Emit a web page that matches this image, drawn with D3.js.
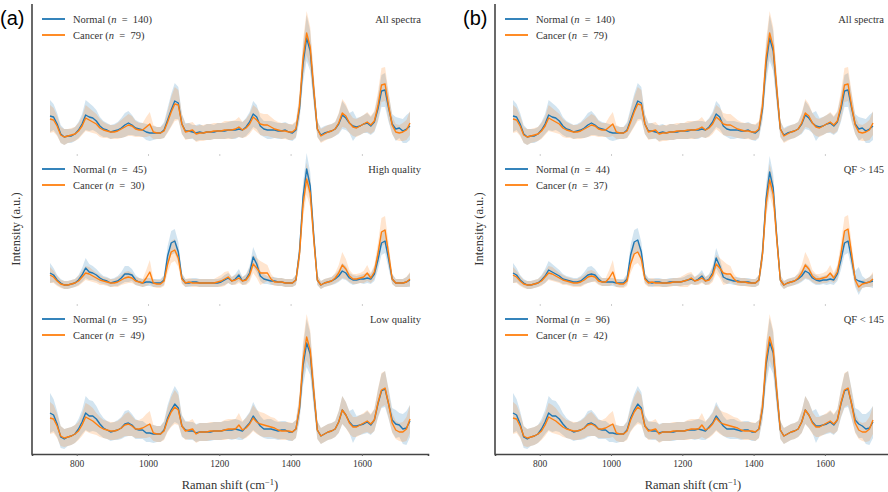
<!DOCTYPE html>
<html>
<head>
<meta charset="utf-8">
<script src="https://cdn.jsdelivr.net/npm/d3@7"></script>
<style>
  body { margin: 0; background: #fff; }
  svg { display: block; }
  text { font-family: "Liberation Serif", "DejaVu Serif", serif; fill: #333; }
  text.panel-label { font-family: "Liberation Sans", Arial, sans-serif; fill: #000; }
</style>
</head>
<body>
<script>
// Raman shift grid (cm^-1), one sample every 10 cm^-1
const WAVENUMBER = d3.range(725, 1736, 10)
const X_TICKS = [800, 1000, 1200, 1400, 1600]

// ---- All spectra (same data in (a) and (b)) ----
const normalAll = [
  0.18,0.17,0.10,0.00,-0.03,-0.02,-0.02,0.00,0.04,0.10,
  0.19,0.17,0.16,0.13,0.08,0.05,0.04,0.02,0.03,0.04,
  0.06,0.09,0.11,0.09,0.06,0.05,0.04,0.02,0.01,0.01,
  0.01,0.01,0.04,0.14,0.24,0.33,0.31,0.10,0.03,0.03,
  0.02,0.01,0.02,0.01,0.02,0.02,0.02,0.03,0.03,0.03,
  0.04,0.04,0.04,0.05,0.04,0.07,0.12,0.20,0.17,0.08,
  0.05,0.04,0.04,0.04,0.03,0.03,0.04,0.02,0.01,0.04,
  0.25,0.70,0.96,0.83,0.43,0.05,-0.01,0.01,0.02,0.03,
  0.05,0.10,0.19,0.16,0.11,0.08,0.07,0.08,0.10,0.11,
  0.08,0.12,0.25,0.43,0.44,0.26,0.10,0.05,0.06,0.03,
  0.05,0.08]
const cancerAll = [
  0.15,0.14,0.08,-0.01,-0.03,-0.02,-0.01,0.00,0.03,0.08,
  0.16,0.14,0.12,0.10,0.06,0.04,0.03,0.02,0.02,0.03,
  0.05,0.07,0.09,0.08,0.05,0.04,0.04,0.07,0.10,0.02,
  0.01,0.01,0.03,0.12,0.22,0.30,0.29,0.10,0.02,0.03,
  0.04,0.00,0.01,0.01,0.02,0.02,0.03,0.03,0.03,0.04,
  0.04,0.04,0.05,0.07,0.04,0.06,0.10,0.17,0.14,0.10,
  0.09,0.09,0.07,0.05,0.04,0.03,0.03,0.02,0.02,0.05,
  0.28,0.76,1.01,0.87,0.45,0.05,-0.02,0.00,0.02,0.03,
  0.05,0.11,0.21,0.18,0.11,0.07,0.06,0.08,0.10,0.12,
  0.09,0.13,0.28,0.49,0.50,0.28,0.09,0.02,0.01,0.02,
  0.04,0.11]
const normalAllSd = [
  0.16,0.13,0.11,0.09,0.08,0.07,0.07,0.07,0.08,0.10,
  0.15,0.14,0.12,0.11,0.09,0.08,0.07,0.07,0.07,0.08,
  0.10,0.12,0.12,0.10,0.08,0.07,0.07,0.08,0.08,0.07,
  0.06,0.06,0.08,0.12,0.16,0.18,0.16,0.10,0.08,0.08,
  0.07,0.08,0.08,0.07,0.08,0.08,0.07,0.08,0.08,0.08,
  0.08,0.09,0.09,0.08,0.08,0.09,0.10,0.13,0.12,0.09,
  0.08,0.09,0.09,0.08,0.08,0.08,0.08,0.08,0.08,0.08,
  0.12,0.18,0.23,0.20,0.14,0.08,0.07,0.07,0.07,0.07,
  0.07,0.10,0.14,0.12,0.10,0.15,0.09,0.09,0.09,0.10,
  0.09,0.10,0.13,0.16,0.17,0.14,0.10,0.12,0.10,0.12,
  0.14,0.14]
const cancerAllSd = [
  0.14,0.12,0.10,0.08,0.08,0.07,0.07,0.07,0.08,0.09,
  0.13,0.12,0.11,0.10,0.09,0.08,0.07,0.07,0.07,0.08,
  0.09,0.10,0.11,0.10,0.08,0.07,0.07,0.10,0.12,0.07,
  0.06,0.06,0.07,0.11,0.15,0.17,0.15,0.10,0.08,0.08,
  0.08,0.08,0.08,0.08,0.08,0.08,0.08,0.08,0.08,0.09,
  0.09,0.09,0.09,0.10,0.08,0.09,0.10,0.12,0.12,0.11,
  0.11,0.11,0.10,0.09,0.08,0.08,0.08,0.08,0.08,0.08,
  0.12,0.18,0.22,0.20,0.14,0.08,0.07,0.07,0.07,0.07,
  0.07,0.10,0.14,0.12,0.10,0.09,0.09,0.09,0.09,0.10,
  0.09,0.10,0.14,0.17,0.17,0.14,0.09,0.08,0.08,0.09,
  0.10,0.12]

// ---- High quality (a) ----
const normalHigh = [
  0.11,0.09,0.04,0.01,-0.01,-0.01,0.00,0.01,0.04,0.09,
  0.16,0.12,0.11,0.09,0.06,0.04,0.03,0.01,0.02,0.03,
  0.06,0.10,0.10,0.09,0.04,0.02,0.01,0.02,0.02,0.01,
  0.01,0.01,0.04,0.28,0.41,0.43,0.32,0.06,0.01,0.01,
  0.02,0.02,0.01,0.01,0.01,0.01,0.01,0.01,0.02,0.04,
  0.06,0.03,0.05,0.09,0.03,0.05,0.11,0.27,0.20,0.08,
  0.05,0.04,0.03,0.03,0.02,0.02,0.01,0.01,0.01,0.04,
  0.32,0.87,1.15,0.98,0.48,0.04,-0.01,0.01,0.02,0.03,
  0.05,0.08,0.13,0.11,0.06,0.04,0.04,0.05,0.05,0.06,
  0.05,0.10,0.24,0.41,0.43,0.25,0.05,0.01,0.01,0.01,
  0.02,0.04]
const cancerHigh = [
  0.09,0.07,0.03,0.00,-0.01,-0.01,0.00,0.01,0.03,0.07,
  0.11,0.10,0.08,0.06,0.04,0.03,0.02,0.01,0.01,0.02,
  0.04,0.06,0.07,0.06,0.03,0.02,0.01,0.06,0.12,0.01,
  0.00,0.00,0.03,0.20,0.32,0.34,0.26,0.05,0.01,0.02,
  0.01,0.01,0.01,0.01,0.01,0.01,0.01,0.02,0.03,0.05,
  0.07,0.03,0.04,0.06,0.03,0.04,0.09,0.20,0.16,0.11,
  0.11,0.11,0.05,0.02,0.02,0.02,0.01,0.01,0.01,0.04,
  0.30,0.80,1.05,0.91,0.45,0.04,-0.01,0.01,0.02,0.03,
  0.06,0.11,0.19,0.15,0.08,0.05,0.05,0.06,0.07,0.11,
  0.06,0.12,0.30,0.52,0.54,0.30,0.05,0.01,0.01,0.01,
  0.02,0.05]
const normalHighSd = [
  0.10,0.07,0.05,0.04,0.04,0.04,0.04,0.04,0.05,0.07,
  0.10,0.08,0.07,0.06,0.05,0.04,0.04,0.04,0.04,0.05,
  0.06,0.08,0.08,0.06,0.05,0.04,0.04,0.04,0.04,0.04,
  0.04,0.04,0.05,0.10,0.12,0.12,0.10,0.05,0.04,0.04,
  0.04,0.04,0.04,0.04,0.04,0.04,0.04,0.04,0.04,0.05,
  0.05,0.04,0.05,0.06,0.04,0.05,0.07,0.10,0.08,0.05,
  0.05,0.04,0.04,0.04,0.04,0.04,0.04,0.04,0.04,0.05,
  0.10,0.14,0.16,0.14,0.10,0.05,0.04,0.04,0.04,0.04,
  0.05,0.06,0.08,0.07,0.05,0.05,0.04,0.04,0.05,0.05,
  0.05,0.07,0.10,0.12,0.12,0.10,0.05,0.04,0.04,0.04,
  0.05,0.07]
const cancerHighSd = [
  0.08,0.06,0.05,0.04,0.04,0.04,0.04,0.04,0.05,0.06,
  0.07,0.07,0.06,0.05,0.05,0.04,0.04,0.04,0.04,0.05,
  0.05,0.06,0.06,0.05,0.04,0.04,0.04,0.08,0.12,0.04,
  0.04,0.04,0.05,0.09,0.11,0.11,0.09,0.05,0.04,0.04,
  0.04,0.04,0.04,0.04,0.04,0.04,0.04,0.05,0.06,0.07,
  0.06,0.04,0.05,0.05,0.04,0.05,0.07,0.09,0.10,0.12,
  0.10,0.08,0.05,0.04,0.04,0.04,0.04,0.04,0.04,0.05,
  0.10,0.14,0.16,0.14,0.10,0.05,0.04,0.04,0.04,0.04,
  0.05,0.08,0.13,0.10,0.06,0.05,0.05,0.05,0.06,0.08,
  0.05,0.07,0.11,0.14,0.14,0.11,0.05,0.04,0.04,0.04,
  0.05,0.07]

// ---- Low quality (a) ----
const normalLow = [
  0.21,0.19,0.10,-0.03,-0.05,-0.03,-0.02,0.00,0.05,0.12,
  0.21,0.18,0.18,0.15,0.10,0.06,0.04,0.02,0.03,0.04,
  0.06,0.10,0.11,0.09,0.05,0.04,0.04,0.01,0.01,0.00,
  0.00,0.00,0.04,0.16,0.24,0.30,0.26,0.08,0.04,0.03,
  0.03,0.01,0.02,0.02,0.02,0.02,0.03,0.03,0.03,0.04,
  0.04,0.04,0.05,0.04,0.03,0.07,0.11,0.18,0.13,0.08,
  0.05,0.05,0.05,0.04,0.03,0.04,0.04,0.02,0.02,0.05,
  0.25,0.68,0.91,0.80,0.41,0.04,-0.02,0.00,0.02,0.03,
  0.05,0.12,0.24,0.19,0.12,0.08,0.08,0.09,0.10,0.12,
  0.09,0.14,0.30,0.43,0.45,0.30,0.14,0.10,0.09,0.05,
  0.06,0.13]
const cancerLow = [
  0.16,0.15,0.08,-0.02,-0.04,-0.03,-0.02,0.00,0.03,0.09,
  0.17,0.15,0.13,0.10,0.07,0.05,0.04,0.03,0.03,0.04,
  0.06,0.09,0.10,0.08,0.05,0.05,0.06,0.08,0.10,0.01,
  0.00,0.00,0.03,0.14,0.22,0.27,0.24,0.08,0.03,0.04,
  0.05,0.00,0.02,0.02,0.02,0.03,0.03,0.03,0.03,0.04,
  0.05,0.05,0.05,0.09,0.04,0.06,0.10,0.16,0.12,0.10,
  0.09,0.08,0.07,0.06,0.04,0.03,0.03,0.03,0.02,0.05,
  0.27,0.74,0.97,0.84,0.43,0.04,-0.02,0.00,0.02,0.03,
  0.05,0.12,0.24,0.19,0.11,0.07,0.07,0.09,0.11,0.13,
  0.10,0.14,0.31,0.44,0.46,0.30,0.11,0.04,0.02,0.02,
  0.05,0.15]
const normalLowSd = [
  0.20,0.16,0.13,0.11,0.10,0.09,0.09,0.09,0.10,0.12,
  0.17,0.16,0.15,0.13,0.11,0.10,0.09,0.09,0.09,0.10,
  0.11,0.13,0.13,0.11,0.10,0.09,0.09,0.09,0.09,0.09,
  0.08,0.08,0.09,0.13,0.16,0.18,0.16,0.11,0.09,0.09,
  0.09,0.09,0.09,0.09,0.09,0.09,0.09,0.09,0.09,0.09,
  0.09,0.10,0.10,0.10,0.09,0.10,0.11,0.14,0.12,0.10,
  0.09,0.10,0.10,0.09,0.09,0.09,0.09,0.09,0.09,0.09,
  0.12,0.19,0.24,0.21,0.15,0.09,0.08,0.08,0.08,0.08,
  0.08,0.11,0.14,0.13,0.11,0.17,0.10,0.10,0.10,0.11,
  0.10,0.11,0.14,0.17,0.18,0.15,0.12,0.14,0.12,0.15,
  0.17,0.16]
const cancerLowSd = [
  0.16,0.14,0.12,0.10,0.09,0.09,0.09,0.09,0.09,0.11,
  0.14,0.14,0.13,0.11,0.10,0.09,0.09,0.09,0.09,0.09,
  0.10,0.11,0.12,0.10,0.09,0.09,0.10,0.12,0.13,0.08,
  0.08,0.08,0.09,0.12,0.15,0.17,0.15,0.10,0.09,0.09,
  0.10,0.09,0.09,0.09,0.09,0.09,0.09,0.09,0.09,0.10,
  0.10,0.10,0.10,0.12,0.09,0.10,0.11,0.13,0.12,0.12,
  0.12,0.11,0.10,0.10,0.09,0.09,0.09,0.09,0.09,0.09,
  0.12,0.18,0.23,0.20,0.14,0.09,0.08,0.08,0.08,0.08,
  0.08,0.11,0.14,0.13,0.11,0.10,0.10,0.10,0.10,0.11,
  0.10,0.11,0.14,0.17,0.17,0.14,0.10,0.09,0.09,0.10,
  0.12,0.14]

// ---- QF > 145 (b) ----
const normalQfHigh = [
  0.11,0.09,0.04,0.01,-0.01,-0.01,0.00,0.01,0.04,0.08,
  0.14,0.12,0.10,0.08,0.05,0.04,0.03,0.02,0.02,0.03,
  0.06,0.09,0.10,0.09,0.05,0.02,0.02,0.02,0.02,0.01,
  0.01,0.01,0.05,0.29,0.42,0.44,0.32,0.06,0.02,0.01,
  0.02,0.02,0.01,0.01,0.02,0.02,0.02,0.02,0.03,0.04,
  0.05,0.03,0.05,0.08,0.03,0.05,0.11,0.26,0.18,0.07,
  0.05,0.04,0.03,0.03,0.02,0.02,0.02,0.01,0.01,0.04,
  0.31,0.85,1.12,0.96,0.47,0.04,-0.01,0.01,0.02,0.03,
  0.05,0.08,0.13,0.11,0.06,0.04,0.03,0.04,0.04,0.05,
  0.04,0.10,0.24,0.41,0.43,0.25,0.05,0.03,0.02,0.01,
  0.02,0.03]
const cancerQfHigh = [
  0.09,0.07,0.03,0.00,-0.01,-0.01,0.00,0.01,0.03,0.07,
  0.11,0.10,0.08,0.06,0.04,0.03,0.02,0.01,0.01,0.02,
  0.04,0.07,0.08,0.07,0.03,0.02,0.02,0.06,0.12,0.01,
  0.00,0.00,0.03,0.20,0.30,0.32,0.25,0.05,0.01,0.02,
  0.01,0.01,0.01,0.01,0.01,0.02,0.02,0.02,0.03,0.04,
  0.06,0.03,0.04,0.06,0.03,0.04,0.09,0.20,0.16,0.11,
  0.10,0.10,0.05,0.02,0.02,0.02,0.01,0.01,0.01,0.04,
  0.30,0.80,1.04,0.90,0.45,0.04,-0.01,0.01,0.02,0.03,
  0.06,0.11,0.19,0.15,0.08,0.05,0.05,0.06,0.07,0.11,
  0.06,0.12,0.30,0.53,0.55,0.30,0.04,-0.03,0.00,0.01,
  0.02,0.05]
const normalQfHighSd = [
  0.10,0.07,0.05,0.04,0.04,0.04,0.04,0.04,0.05,0.07,
  0.09,0.08,0.07,0.06,0.05,0.04,0.04,0.04,0.04,0.05,
  0.06,0.08,0.08,0.06,0.05,0.04,0.04,0.04,0.04,0.04,
  0.04,0.04,0.05,0.10,0.12,0.12,0.10,0.05,0.04,0.04,
  0.04,0.04,0.04,0.04,0.04,0.04,0.04,0.04,0.04,0.05,
  0.05,0.04,0.05,0.06,0.04,0.05,0.07,0.10,0.08,0.05,
  0.05,0.04,0.04,0.04,0.04,0.04,0.04,0.04,0.04,0.05,
  0.10,0.14,0.16,0.14,0.10,0.05,0.04,0.04,0.04,0.04,
  0.05,0.06,0.08,0.07,0.05,0.05,0.04,0.04,0.05,0.05,
  0.05,0.07,0.10,0.12,0.12,0.10,0.08,0.14,0.06,0.04,
  0.05,0.07]
const cancerQfHighSd = [
  0.08,0.06,0.05,0.04,0.04,0.04,0.04,0.04,0.05,0.06,
  0.07,0.07,0.06,0.05,0.05,0.04,0.04,0.04,0.04,0.05,
  0.05,0.06,0.06,0.05,0.04,0.04,0.04,0.08,0.12,0.04,
  0.04,0.04,0.05,0.09,0.11,0.11,0.09,0.05,0.04,0.04,
  0.04,0.04,0.04,0.04,0.04,0.04,0.04,0.05,0.06,0.07,
  0.06,0.04,0.05,0.05,0.04,0.05,0.07,0.09,0.10,0.12,
  0.10,0.08,0.05,0.04,0.04,0.04,0.04,0.04,0.04,0.05,
  0.10,0.14,0.16,0.14,0.10,0.05,0.04,0.04,0.04,0.04,
  0.05,0.08,0.13,0.10,0.06,0.05,0.05,0.05,0.06,0.08,
  0.05,0.07,0.11,0.14,0.14,0.11,0.05,0.05,0.04,0.04,
  0.05,0.07]

// ---- QF < 145 (b) ----
const normalQfLow = [
  0.21,0.19,0.10,-0.03,-0.05,-0.03,-0.02,0.00,0.05,0.12,
  0.21,0.18,0.18,0.15,0.10,0.06,0.04,0.02,0.03,0.04,
  0.06,0.10,0.11,0.09,0.05,0.04,0.04,0.01,0.01,0.00,
  0.00,0.00,0.04,0.16,0.24,0.30,0.26,0.08,0.04,0.03,
  0.03,0.01,0.02,0.02,0.02,0.02,0.03,0.03,0.03,0.04,
  0.04,0.04,0.05,0.04,0.03,0.07,0.11,0.18,0.13,0.08,
  0.05,0.05,0.05,0.04,0.03,0.04,0.04,0.02,0.02,0.05,
  0.25,0.69,0.92,0.81,0.41,0.04,-0.02,0.00,0.02,0.03,
  0.05,0.12,0.24,0.19,0.12,0.08,0.08,0.09,0.10,0.12,
  0.09,0.14,0.30,0.43,0.45,0.30,0.14,0.10,0.08,0.05,
  0.06,0.12]
const cancerQfLow = [
  0.16,0.15,0.08,-0.02,-0.04,-0.03,-0.02,0.00,0.03,0.09,
  0.17,0.15,0.13,0.10,0.07,0.05,0.04,0.03,0.03,0.04,
  0.06,0.09,0.10,0.08,0.05,0.05,0.06,0.08,0.10,0.01,
  0.00,0.00,0.03,0.14,0.22,0.27,0.24,0.08,0.03,0.04,
  0.05,0.00,0.02,0.02,0.02,0.03,0.03,0.03,0.03,0.04,
  0.05,0.05,0.05,0.09,0.04,0.06,0.10,0.16,0.12,0.10,
  0.09,0.08,0.07,0.06,0.04,0.03,0.03,0.03,0.02,0.05,
  0.27,0.74,0.97,0.84,0.43,0.04,-0.02,0.00,0.02,0.03,
  0.05,0.12,0.24,0.19,0.11,0.07,0.07,0.09,0.11,0.13,
  0.10,0.14,0.31,0.44,0.46,0.30,0.11,0.04,0.02,0.02,
  0.05,0.14]
const normalQfLowSd = normalLowSd
const cancerQfLowSd = cancerLowSd

const panels = [
  { label: "(a)", left: 32, rows: [
    { title: "All spectra", nNormal: 140, nCancer: 79, normal: normalAll, normalSd: normalAllSd, cancer: cancerAll, cancerSd: cancerAllSd },
    { title: "High quality", nNormal: 45, nCancer: 30, normal: normalHigh, normalSd: normalHighSd, cancer: cancerHigh, cancerSd: cancerHighSd },
    { title: "Low quality", nNormal: 95, nCancer: 49, normal: normalLow, normalSd: normalLowSd, cancer: cancerLow, cancerSd: cancerLowSd }
  ]},
  { label: "(b)", left: 495, rows: [
    { title: "All spectra", nNormal: 140, nCancer: 79, normal: normalAll, normalSd: normalAllSd, cancer: cancerAll, cancerSd: cancerAllSd },
    { title: "QF > 145", nNormal: 44, nCancer: 37, normal: normalQfHigh, normalSd: normalQfHighSd, cancer: cancerQfHigh, cancerSd: cancerQfHighSd },
    { title: "QF < 145", nNormal: 96, nCancer: 42, normal: normalQfLow, normalSd: normalQfLowSd, cancer: cancerQfLow, cancerSd: cancerQfLowSd }
  ]}
]

const BLUE = "#1f77b4", ORANGE = "#ff7f0e"
const plotWidth = 396
const rowTop = [4, 154, 304], rowHeight = 150

const svg = d3.select("body").append("svg")
    .attr("width", 888)
    .attr("height", 492)
    .style("background", "#fff")

panels.forEach((panel) => {
    const left = panel.left
    const x = d3.scaleLinear().domain([674.5, 1785.5]).range([left, left + plotWidth])

    panel.rows.forEach((row, ri) => {
        const top = rowTop[ri]
        const bottom = top + rowHeight
        const y = d3.scaleLinear().domain([-0.2, 1.3]).range([bottom, top])
        const g = svg.append("g")

        const idx = d3.range(WAVENUMBER.length)
        const band = (mean, sd) => d3.area()
            .x((i) => x(WAVENUMBER[i]))
            .y0((i) => y(mean[i] - sd[i]))
            .y1((i) => y(mean[i] + sd[i]))
        const line = (mean) => d3.line()
            .x((i) => x(WAVENUMBER[i]))
            .y((i) => y(mean[i]))

        g.append("path").datum(idx).attr("d", band(row.normal, row.normalSd))
            .attr("fill", BLUE).attr("fill-opacity", 0.2)
        g.append("path").datum(idx).attr("d", band(row.cancer, row.cancerSd))
            .attr("fill", ORANGE).attr("fill-opacity", 0.2)
        g.append("path").datum(idx).attr("d", line(row.normal))
            .attr("fill", "none").attr("stroke", BLUE).attr("stroke-width", 1.4)
            .attr("stroke-linejoin", "round")
        g.append("path").datum(idx).attr("d", line(row.cancer))
            .attr("fill", "none").attr("stroke", ORANGE).attr("stroke-width", 1.4)
            .attr("stroke-linejoin", "round")

        // x axis: labels only on the last row
        const isLast = ri === panel.rows.length - 1
        const axis = d3.axisBottom(x).tickValues(X_TICKS).tickSize(2).tickPadding(4)
            .tickFormat(isLast ? d3.format("d") : "")
        const ax = g.append("g").attr("transform", "translate(0," + bottom + ")").call(axis)
        ax.selectAll(".tick line").attr("stroke", isLast ? "#666" : "#ccc")
        ax.selectAll(".tick text").style("font-size", "9.5px").attr("fill", "#333")
        if (isLast) {
            ax.select(".domain").attr("stroke", "#444").attr("stroke-width", 1.6)
        } else {
            ax.select(".domain").remove()
        }

        // left spine
        g.append("line").attr("x1", left).attr("x2", left)
            .attr("y1", top).attr("y2", bottom + (isLast ? 0.8 : 0))
            .attr("stroke", "#444").attr("stroke-width", 1.6)

        // legend
        const legend = [
            { name: "Normal", n: row.nNormal, color: BLUE },
            { name: "Cancer", n: row.nCancer, color: ORANGE }
        ]
        legend.forEach((d, li) => {
            const ly = top + 15 + li * 16
            g.append("line").attr("x1", left + 10).attr("x2", left + 33)
                .attr("y1", ly).attr("y2", ly)
                .attr("stroke", d.color).attr("stroke-width", 1.8)
            const t = g.append("text").attr("x", left + 41).attr("y", ly + 3.5)
                .style("font-size", "10.5px")
            t.append("tspan").text(d.name + " (")
            t.append("tspan").attr("font-style", "italic").text("n")
            t.append("tspan").text("\u2002=\u2002" + d.n + ")")
        })

        g.append("text").attr("x", left + plotWidth - 7).attr("y", top + 19)
            .attr("text-anchor", "end").style("font-size", "10.5px")
            .text(row.title)
    })

    // axis titles
    svg.append("text")
        .attr("transform", "translate(" + (left - 12) + "," + 229 + ") rotate(-90)")
        .attr("text-anchor", "middle").style("font-size", "12.5px")
        .text("Intensity (a.u.)")

    const xl = svg.append("text").attr("x", left + 198).attr("y", 489)
        .attr("text-anchor", "middle").style("font-size", "12.5px")
    xl.append("tspan").text("Raman shift (cm")
    xl.append("tspan").attr("dy", -4.5).style("font-size", "8.5px").text("\u22121")
    xl.append("tspan").attr("dy", 4.5).text(")")

    svg.append("text").attr("class", "panel-label")
        .attr("x", left - 32).attr("y", 25)
        .style("font-size", "20px")
        .text(panel.label)
})
</script>
</body>
</html>
